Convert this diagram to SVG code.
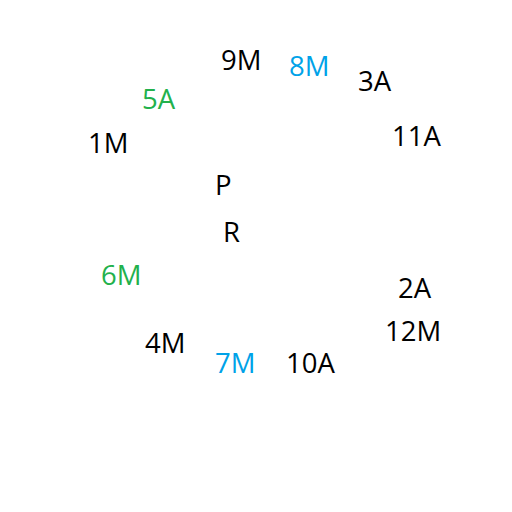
<svg xmlns="http://www.w3.org/2000/svg" width="512" height="512" viewBox="0 0 512 512">
<style>
text{font-family:"Open Sans","Noto Sans",sans-serif;font-size:27.5px;fill:#000}
.b{fill:#00a2e8}
.g{fill:#22b14c}
</style>
<rect width="512" height="512" fill="#fff"/>
<g id="n9M"><text x="221" y="70">9M</text></g>
<g id="n8M"><text class="b" x="289" y="76">8M</text></g>
<g id="n3A"><text x="358" y="91">3A</text></g>
<g id="n5A"><text class="g" x="142" y="109">5A</text></g>
<g id="n1M"><text x="88" y="153">1M</text></g>
<g id="n11A"><text x="392" y="146">11A</text></g>
<g id="nP"><text x="215" y="195">P</text></g>
<g id="nR"><text x="223" y="242">R</text></g>
<g id="n6M"><text class="g" x="101" y="285">6M</text></g>
<g id="n2A"><text x="398" y="298">2A</text></g>
<g id="n12M"><text x="385" y="341">12M</text></g>
<g id="n4M"><text x="145" y="353">4M</text></g>
<g id="n7M"><text class="b" x="215" y="373">7M</text></g>
<g id="n10A"><text x="286" y="373">10A</text></g>
<g id="connectors"></g>
</svg>
